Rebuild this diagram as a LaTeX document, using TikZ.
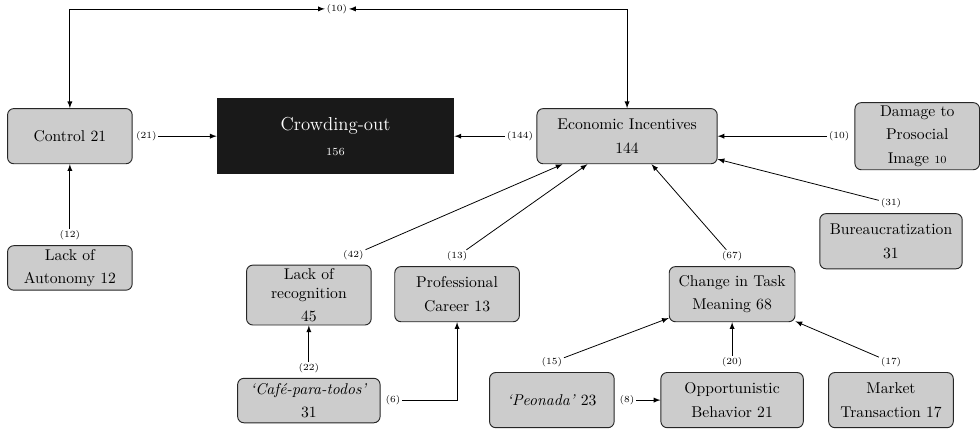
\documentclass[tikz,border=0pt]{standalone}
\usetikzlibrary{positioning,backgrounds}

\tikzset{
    box/.style={draw=black!85, line width=0.6pt, fill=gray!40, rounded corners=4pt, align=center,
        minimum width=2.8cm, minimum height=1.24cm, inner xsep=6pt, inner ysep=2pt},
    outbox/.style={fill=black!90, text=white, align=center,
        minimum width=5.33cm, minimum height=1.71cm},
    lbl/.style={font=\fontsize{6}{7}\selectfont, inner sep=1pt},
    arr/.style={-latex, semithin},
    semithin/.style={line width=0.5pt},
}

\begin{document}
\begin{tikzpicture}
    % white background
    \begin{scope}[on background layer]
        \fill [white] (0,0) rectangle (22.02,-9.64);
    \end{scope}
    \useasboundingbox (0,0) rectangle (22.02,-9.64);

    % draw boxes
    \node[box] (ctrl) at (1.57,-3.06) {Control 21};
    \node[box, minimum height=1cm] (autonomy) at (1.57,-6.02) {Lack of\\[3pt]Autonomy 12};
    \node[outbox] (crowd) at (7.54,-3.06) {{\large Crowding-out}\\[4pt]{\scriptsize 156}};
    \node[box, minimum width=4.05cm] (econ) at (14.09,-3.06) {Economic Incentives\\[3pt]144};
    \node[box] (damage) at (20.61,-3.06) {Damage to\\[3pt]Prosocial\\[3pt]Image {\scriptsize 10}};
    \node[box, minimum width=3.2cm] (bureau) at (20.02,-5.42) {Bureaucratization\\[3pt]31};
    \node[box] (lackrec) at (6.94,-6.63) {Lack of\\recognition\\[3pt]45};
    \node[box] (career) at (10.27,-6.61) {Professional\\[3pt]Career 13};
    \node[box] (change) at (16.45,-6.61) {Change in Task\\[3pt]Meaning 68};
    \node[box, minimum width=3.2cm, minimum height=1cm] (cafe) at (6.94,-9.0) {\textit{`Café-para-todos'}\\[3pt]31};
    \node[box] (peonada) at (12.40,-8.99) {\textit{`Peonada'} 23};
    \node[box, minimum width=3.2cm] (opport) at (16.45,-8.99) {Opportunistic\\[3pt]Behavior 21};
    \node[box] (market) at (20.02,-8.99) {Market\\[3pt]Transaction 17};

    % add labels
    \node[lbl] (l10top) at (7.57,-0.2) {(10)};
    \node[lbl, right=1pt of ctrl] (l21) {(21)};
    \node[lbl, left=1pt of econ] (l144) {(144)};
    \node[lbl, left=2pt of damage] (l10) {(10)};
    \node[lbl, above=2pt of bureau] (l31) {(31)};
    \node[lbl, above=2pt of autonomy] (l12) {(12)};
    \node[lbl, above=2pt of lackrec, xshift=1cm] (l42) {(42)};
    \node[lbl, above=2pt of career] (l13) {(13)};
    \node[lbl, above=2pt of change] (l67) {(67)};
    \node[lbl, above=2pt of cafe] (l22) {(22)};
    \node[lbl, right=2pt of cafe] (l6) {(6)};
    \node[lbl, above=2pt of peonada] (l15) {(15)};
    \node[lbl, right=2pt of peonada] (l8) {(8)};
    \node[lbl, above=2pt of opport] (l20) {(20)};
    \node[lbl, above=2pt of market] (l17) {(17)};

    % draw arrows
    \draw[latex-latex, semithin] (ctrl.north) |- (l10top);
    \draw[latex-latex, semithin] (econ.north) |- (l10top);
    \draw[arr] (l21) -- (crowd);
    \draw[arr] (l144) -- (crowd);
    \draw[arr] (l10) -- (econ);
    \draw[arr] (l31) -- (econ);
    \draw[arr] (l12) -- (ctrl);
    \draw[arr] (l42) -- (econ);
    \draw[arr] (l13) -- (econ);
    \draw[arr] (l67) -- (econ);
    \draw[arr] (l22) -- (lackrec);
    \draw[arr] (l6) -| (career);
    \draw[arr] (l15) -- (change);
    \draw[arr] (l20) -- (change);
    \draw[arr] (l17) -- (change);
    \draw[arr] (l8) -- (opport);

\end{tikzpicture}
\end{document}
